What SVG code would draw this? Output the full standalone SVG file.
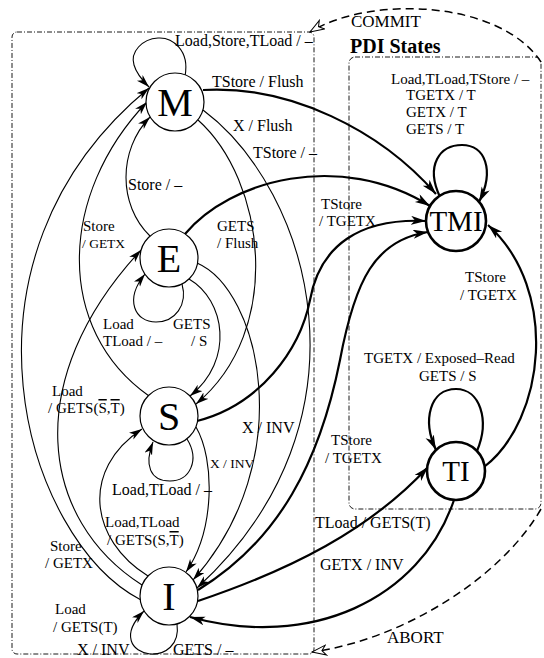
<svg xmlns="http://www.w3.org/2000/svg" width="544" height="658" viewBox="0 0 544 658">
<style>
text{font-family:"Liberation Serif","Times New Roman",serif;fill:#000}
.l{font-size:16px}
.p{font-size:15px}
.s{font-size:13.5px}
.n{font-size:40px}
.nt{font-size:29px}
.e{fill:none;stroke:#000;stroke-width:1.1}
.k{fill:none;stroke:#000;stroke-width:2.2}
.d{fill:none;stroke:#000;stroke-width:1.5;stroke-dasharray:8 5}
.f{fill:none;stroke:#000;stroke-width:0.9;stroke-dasharray:5 2 1 2}
.c{fill:#fff;stroke:#000;stroke-width:1.2}
.ck{fill:#fff;stroke:#000;stroke-width:2.6}
.ov{text-decoration:overline}
</style>
<defs>
<marker id="a" markerWidth="14" markerHeight="10" refX="13" refY="4" orient="auto" markerUnits="userSpaceOnUse"><path d="M0,0 L13,4 L0,8 L3.5,4 z" fill="#000"/></marker>
<marker id="ak" markerWidth="16" markerHeight="12" refX="15" refY="4.5" orient="auto" markerUnits="userSpaceOnUse"><path d="M0,0 L15,4.5 L0,9 L4,4.5 z" fill="#000"/></marker>
<marker id="ao" markerWidth="18" markerHeight="14" refX="15" refY="6" orient="auto" markerUnits="userSpaceOnUse"><path d="M1,1 L15,6 L1,11 L5,6 z" fill="#fff" stroke="#000" stroke-width="1"/></marker>
</defs>

<g id="frames">
<rect class="f" x="12" y="32" width="302" height="622" rx="5"/>
<rect class="f" x="349" y="57" width="192" height="452" rx="6"/>
<text x="351" y="27" style="font-size:17px">COMMIT</text>
<text x="350" y="53" style="font-size:20px;font-weight:bold">PDI States</text>
<text x="387" y="643" style="font-size:17px">ABORT</text>
</g>

<g id="connectors">
<path class="d" d="M541,62 C500,0 370,-5 310,32" marker-end="url(#ao)"/>
<path class="d" d="M541,509 C500,580 400,640 312,652" marker-end="url(#ao)"/>
<path class="e" d="M185,76 C190,50 172,37 158,38 C142,39 130,52 134,65 C136,72 142,80 149,87" marker-end="url(#a)"/>
<path class="e" d="M182,284 C188,305 175,322 156,322 C135,322 124,300 145,274" marker-end="url(#a)"/>
<path class="e" d="M187,439 C200,460 190,481 170,481 C150,481 144,465 153,442" marker-end="url(#a)"/>
<path class="e" d="M177,624 C180,645 165,655 150,654 C132,652 120,635 144,611" marker-end="url(#a)"/>
<path class="k" d="M440,197 C425,165 440,145 462,145 C485,145 495,170 479,202" marker-end="url(#ak)"/>
<path class="k" d="M477,451 C490,420 480,389 456,389 C430,389 422,420 436,450" marker-end="url(#ak)"/>
<path class="e" d="M150,236 C118,205 118,150 150,117" marker-end="url(#a)"/>
<path class="e" d="M149,396 C55,330 58,195 147,102" marker-end="url(#a)"/>
<path class="e" d="M141,600 C25,540 -60,260 149,88" marker-end="url(#a)"/>
<path class="e" d="M142,585 C40,520 20,380 141,250" marker-end="url(#a)"/>
<path class="e" d="M148,576 C90,540 80,470 142,429" marker-end="url(#a)"/>
<path class="e" d="M189,279 C225,300 235,360 190,396" marker-end="url(#a)"/>
<path class="e" d="M198,120 C265,180 285,330 196,404" marker-end="url(#a)"/>
<path class="e" d="M203,110 C310,190 380,420 197,588" marker-end="url(#a)"/>
<path class="e" d="M197,263 C260,290 300,460 193,580" marker-end="url(#a)"/>
<path class="e" d="M196,427 C215,460 215,530 186,572" marker-end="url(#a)"/>
<path class="k" d="M454,500 C420,600 310,650 190,617" marker-end="url(#ak)"/>
<path class="k" d="M203,90 C290,85 380,130 436,194" marker-end="url(#ak)"/>
<path class="k" d="M185,234 C230,180 340,150 430,206" marker-end="url(#ak)"/>
<path class="k" d="M197,421 C260,405 300,350 310,300 C320,245 360,218 426,221" marker-end="url(#ak)"/>
<path class="k" d="M198,590 C280,540 320,460 340,360 C355,280 375,240 428,232" marker-end="url(#ak)"/>
<path class="k" d="M484,467 C545,420 560,290 488,225" marker-end="url(#ak)"/>
<path class="k" d="M198,601 C290,570 370,530 428,467" marker-end="url(#ak)"/>
</g>

<g id="labels">
<text class="l" x="175" y="46">Load,Store,TLoad / –</text>
<text class="l" x="212" y="87">TStore / Flush</text>
<text class="l" x="233" y="131">X / Flush</text>
<text class="l" x="253" y="158">TStore / –</text>
<text class="l" x="128" y="190">Store / –</text>
<text class="p" x="83" y="231">Store</text>
<text class="s" x="82" y="248">/ GETX</text>
<text class="p" x="217" y="231">GETS</text>
<text class="p" x="217" y="248">/ Flush</text>
<text class="p" x="321" y="209">TStore</text>
<text class="p" x="319" y="226">/ TGETX</text>
<text class="p" x="103" y="329">Load</text>
<text class="p" x="103" y="346">TLoad / –</text>
<text class="p" x="173" y="329">GETS</text>
<text class="p" x="191" y="346">/ S</text>
<text class="p" x="52" y="396">Load</text>
<text class="p" x="48" y="413">/ GETS(<tspan class="ov">S</tspan>,<tspan class="ov">T</tspan>)</text>
<text class="l" x="242" y="433">X / INV</text>
<text class="s" x="210" y="468">X / INV</text>
<text class="l" x="112" y="495">Load,TLoad / –</text>
<text class="p" x="105" y="527">Load,TLoad</text>
<text class="p" x="107" y="545">/ GETS(S,<tspan class="ov">T</tspan>)</text>
<text class="p" x="50" y="551">Store</text>
<text class="p" x="45" y="568">/ GETX</text>
<text class="p" x="55" y="614">Load</text>
<text class="p" x="53" y="632">/ GETS(T)</text>
<text class="l" x="77" y="655">X / INV</text>
<text class="l" x="173" y="655">GETS / –</text>
<text class="p" x="331" y="445">TStore</text>
<text class="p" x="325" y="463">/ TGETX</text>
<text class="l" x="315" y="528">TLoad / GETS(T)</text>
<text class="l" x="320" y="570">GETX / INV</text>
<text class="p" x="465" y="282">TStore</text>
<text class="p" x="460" y="300">/ TGETX</text>
<text class="p" x="364" y="363">TGETX / Exposed–Read</text>
<text class="p" x="419" y="381">GETS / S</text>
<text class="p" x="391" y="84">Load,TLoad,TStore / –</text>
<text class="p" x="406" y="100">TGETX / T</text>
<text class="p" x="406" y="117">GETX / T</text>
<text class="p" x="406" y="134">GETS / T</text>
</g>

<g id="node-M"><circle class="c" cx="175" cy="102" r="29"/><text class="n" x="175" y="116" text-anchor="middle">M</text></g>
<g id="node-E"><circle class="c" cx="169" cy="258" r="29"/><text class="n" x="169" y="272" text-anchor="middle">E</text></g>
<g id="node-S"><circle class="c" cx="169" cy="416" r="29"/><text class="n" x="169" y="430" text-anchor="middle">S</text></g>
<g id="node-I"><circle class="c" cx="169" cy="596" r="29"/><text class="n" x="169" y="610" text-anchor="middle">I</text></g>
<g id="node-TMI"><circle class="ck" cx="456" cy="221" r="30"/><text class="nt" x="456" y="231" text-anchor="middle">TMI</text></g>
<g id="node-TI"><circle class="ck" cx="456" cy="471" r="29"/><text class="nt" x="456" y="481" text-anchor="middle">TI</text></g>
</svg>
